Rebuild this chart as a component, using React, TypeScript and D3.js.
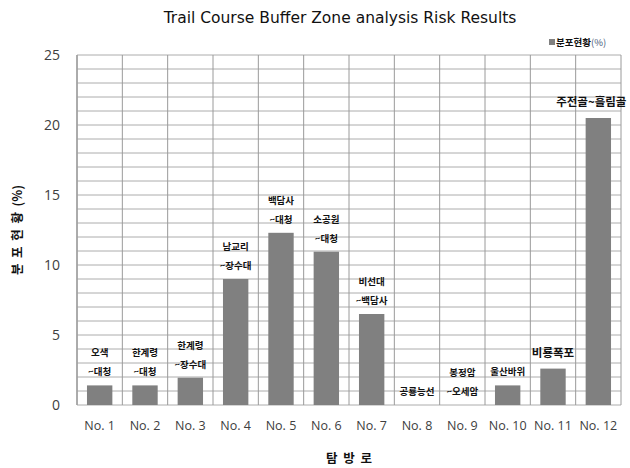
import React from 'react';
import * as d3 from 'd3';

const categories = ['No. 1', 'No. 2', 'No. 3', 'No. 4', 'No. 5', 'No. 6', 'No. 7', 'No. 8', 'No. 9', 'No. 10', 'No. 11', 'No. 12'];
const values = [1.4, 1.4, 1.95, 9.0, 12.3, 10.95, 6.5, 0, 0, 1.4, 2.6, 20.5];
// data labels, first line / second line
const labelTop = ['오색', '한계령', '한계령', '남교리', '백담사', '소공원', '비선대', '', '봉정암', '', '', ''];
const labelBottom = ['~대청', '~대청', '~장수대', '~장수대', '~대청', '~대청', '~백담사', '공룡능선', '~오세암', '울산바위', '비룡폭포', '주전골~흘림골'];
const yTicks = [0, 5, 10, 15, 20, 25];

const W = 630;
const H = 468;
const m = { left: 77, right: 9, top: 55, bottom: 63 };
const KR = '"Noto Sans CJK KR", "Noto Sans", sans-serif';
const tickFont = '"Open Sans", "DejaVu Sans", sans-serif';

export default function App() {
  const x = d3.scaleBand().domain(categories).range([m.left, W - m.right]).paddingInner(0.44).paddingOuter(0.22);
  const y = d3.scaleLinear().domain([0, 25]).range([H - m.bottom, m.top]);
  const bounds = d3.range(categories.length + 1).map((i) => m.left + i * ((W - m.right - m.left) / categories.length));
  const minor = d3.range(0, 26, 1);

  return (
    <svg width={W} height={H} style={{ position: 'absolute', left: 0, top: 0, background: '#fff' }}>
      <text x={340} y={23} textAnchor="middle" fontFamily='"DejaVu Sans", sans-serif' fontSize={15.5} fill="#111">
        Trail Course Buffer Zone analysis Risk Results
      </text>

      {/* grid */}
      {minor.map((v) => (
        <line key={'h' + v} x1={m.left} x2={W - m.right} y1={y(v)} y2={y(v)} stroke="#acacac" strokeWidth={1} />
      ))}
      {bounds.map((b, i) => (
        <line key={'v' + i} x1={b} x2={b} y1={m.top} y2={y(0)} stroke="#9a9a9a" strokeWidth={1} />
      ))}
      <line x1={m.left} x2={m.left} y1={m.top} y2={y(0)} stroke="#a0a0a0" strokeWidth={1.5} />

      {/* bars */}
      {categories.map((c, i) => (
        <rect key={c} x={x(c)} y={y(values[i])} width={x.bandwidth()} height={y(0) - y(values[i])} fill="#808080" />
      ))}

      {/* data labels */}
      {categories.map((c, i) => {
        const big = i >= 10;
        const cx = (x(c) || 0) + x.bandwidth() / 2 - (i === 11 ? 7 : 0);
        return (
          <g key={'l' + c} fontFamily={KR} fontWeight="bold" textAnchor="middle" fill="#111">
            {labelTop[i] && (
              <text x={cx} y={y(values[i]) - 29} fontSize={9.5}>{labelTop[i]}</text>
            )}
            <text x={cx} y={y(values[i]) - (big ? 12 : 10)} fontSize={big ? 11.5 : 9.5}>{labelBottom[i]}</text>
          </g>
        );
      })}

      {/* y ticks */}
      {yTicks.map((t) => (
        <text key={'yt' + t} x={60} y={y(t) + 5} textAnchor="end" fontFamily={tickFont} fontSize={14} fill="#404040">
          {t}
        </text>
      ))}

      {/* x ticks */}
      {categories.map((c) => (
        <text key={'xt' + c} x={(x(c) || 0) + x.bandwidth() / 2} y={430} textAnchor="middle" fontFamily={tickFont} fontSize={12.5} fill="#404040">
          {c}
        </text>
      ))}

      <text x={(m.left + W - m.right) / 2} y={463} textAnchor="middle" fontFamily={KR} fontWeight="bold" fontSize={12.5} fill="#111" style={{ whiteSpace: 'pre' }}>
        탐  방  로
      </text>
      <text transform={`translate(22,${(m.top + y(0)) / 2}) rotate(-90)`} textAnchor="middle" fontFamily={KR} fontWeight="bold" fontSize={12.5} fill="#111" style={{ whiteSpace: 'pre' }}>
        분  포  현  황  (%)
      </text>

      {/* legend */}
      <rect x={549} y={39} width={6} height={6} fill="#808080" />
      <text x={556} y={46} fontFamily={KR} fontWeight="bold" fontSize={9.5} fill="#111">
        분포현황<tspan fill="#4a5a7a" fontWeight="normal">(%)</tspan>
      </text>
    </svg>
  );
}
